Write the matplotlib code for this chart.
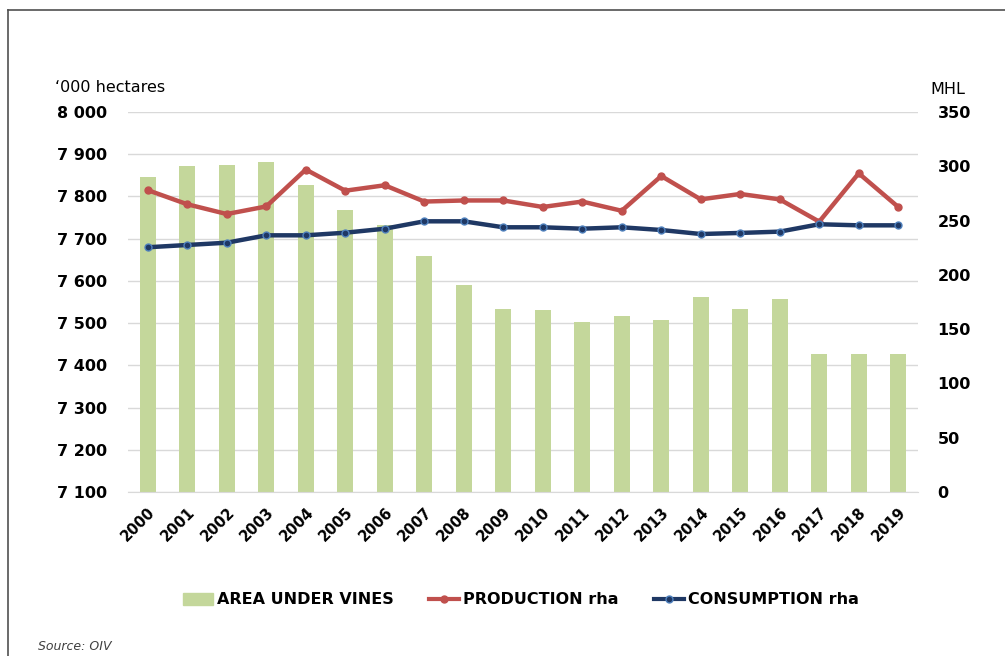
import matplotlib.pyplot as plt
from matplotlib.lines import Line2D
import numpy as np

# data
years = [str(y) for y in range(2000, 2020)]
area = [7847, 7872, 7875, 7882, 7827, 7768, 7733, 7659, 7591, 7534,
        7530, 7503, 7517, 7507, 7562, 7534, 7557, 7428, 7428, 7428]
production = [278, 265, 256, 263, 297, 277.5, 282.5, 267.5, 268.5, 268.5,
              262.5, 267.5, 259, 291, 269.5, 274.5, 269.5, 249, 293.5, 262.5]
consumption = [225.4, 227.5, 229.6, 236.4, 236.4, 238.8, 242.5, 249.3, 249.3, 243.8,
               243.8, 242.5, 243.8, 241.3, 237.6, 238.6, 239.8, 246.6, 245.6, 245.6]
left_ticks = list(range(7100, 8001, 100))
right_ticks = list(range(0, 351, 50))

green = "#c4d79b"
red = "#c0504d"
navy = "#1f3864"

plt.rcParams['font.family'] = ['DejaVu Sans']

fig = plt.figure(figsize=(10.05, 6.56), dpi=100)
ax = fig.add_axes([0.1274, 0.25, 0.786, 0.5793])
ax2 = ax.twinx()

x = np.arange(len(years))

# bars on left axis
ax.bar(x, [a - 7100 for a in area], bottom=7100, width=0.4, color=green, zorder=2)
ax.set_ylim(7100, 8000)
ax.set_xlim(-0.5, len(years) - 0.5)
ax.set_yticks(left_ticks)
ax.set_yticklabels([f"{t // 1000} {t % 1000:03d}" for t in left_ticks],
                   fontweight='bold', fontsize=11.5)
ax.grid(axis='y', color='#d9d9d9', linewidth=1, zorder=0)
ax.set_axisbelow(True)
ax.tick_params(axis='y', length=0, pad=15)
ax.set_xticks(x)
ax.set_xticklabels(years, rotation=45, ha='right', va='top', rotation_mode='anchor',
                   fontweight='bold', fontsize=10.5)
ax.tick_params(axis='x', length=0, pad=9)
for s in ['top', 'right', 'left']:
    ax.spines[s].set_visible(False)
    ax2.spines[s].set_visible(False)
ax.spines['bottom'].set_color('#d9d9d9')
ax2.spines['bottom'].set_visible(False)

# lines on right axis
ax2.plot(x, production, color=red, linewidth=3.2, marker='o', markersize=5,
         markerfacecolor=red, markeredgecolor=red, zorder=3)
ax2.plot(x, consumption, color=navy, linewidth=3.2, marker='o', markersize=5,
         markerfacecolor=navy, markeredgecolor='#4f81bd', markeredgewidth=1, zorder=4)
ax2.set_ylim(0, 350)
ax2.set_yticks(right_ticks)
ax2.set_yticklabels([str(t) for t in right_ticks], fontweight='bold', fontsize=11.5)
ax2.tick_params(axis='y', length=0, pad=14)

# axis titles
fig.text(55 / 1005, 1 - 88 / 656, "\u2018000 hectares", fontsize=11.5, va='center', ha='left')
fig.text(930 / 1005, 1 - 90 / 656, "MHL", fontsize=11.5, va='center', ha='left')

# legend
handles = [
    plt.Rectangle((0, 0), 1, 1, color=green),
    Line2D([0], [0], color=red, linewidth=3, marker='o', markersize=5),
    Line2D([0], [0], color=navy, linewidth=3, marker='o', markersize=5,
           markeredgecolor='#4f81bd'),
]
fig.legend(handles, ["AREA UNDER VINES", "PRODUCTION rha", "CONSUMPTION rha"],
           loc='center', bbox_to_anchor=(521 / 1005, 1 - 600 / 656), ncol=3,
           frameon=False, prop={'weight': 'bold', 'size': 11.5},
           handlelength=1.9, handletextpad=0.25, columnspacing=2.2)

fig.text(38 / 1005, 1 - 646 / 656, "Source: OIV", fontsize=9, style='italic',
         color='#404040', va='center')

# outer frame
fig.add_artist(Line2D([8 / 1005, 8 / 1005], [0, 1 - 10 / 656], color='#505050',
                      linewidth=1.2, transform=fig.transFigure))
fig.add_artist(Line2D([8 / 1005, 1], [1 - 10 / 656, 1 - 10 / 656], color='#505050',
                      linewidth=1.2, transform=fig.transFigure))

fig.savefig("out.png", dpi=100)
